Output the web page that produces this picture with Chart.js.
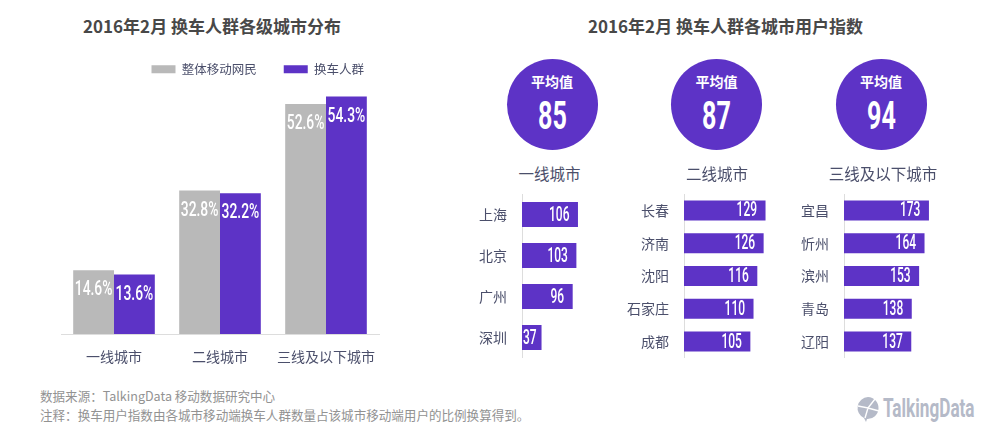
<!DOCTYPE html>
<html><head><meta charset="utf-8">
<script src="https://cdn.jsdelivr.net/npm/chart.js@4"></script>
<style>
html,body{margin:0;padding:0;background:#fff;width:1000px;height:436px;overflow:hidden;font-family:"Noto Sans CJK SC",sans-serif}
canvas,.t,.c,svg{position:absolute}
.t{white-space:nowrap;line-height:1;transform:translateY(-50%)}
.title{font-weight:700;font-size:17px;color:#484848}
.city{font-size:15.5px;color:#4b4f6b;transform:translate(-50%,-50%)}
.foot{font-size:12.55px;color:#929292;left:40px}
.c{width:91px;height:91px;border-radius:50%;background:#5d33c6;color:#fff;text-align:center}
.c b{display:block;position:absolute;left:0;right:0;line-height:1}
.c .a{top:15px;font-size:14px}
.c .n{top:38px;font-family:Roboto;font-weight:700;font-size:38px;transform:scaleX(.66)}
</style></head><body>
<div class="t title" style="left:83px;top:25px">2016年2月 换车人群各级城市分布</div>
<div class="t title" style="left:588px;top:25px">2016年2月 换车人群各城市用户指数</div>
<canvas id="main" width="450" height="380" style="left:0;top:0;width:450px;height:380px"></canvas>
<div id="rest"></div>
<div class="t foot" style="top:396px">数据来源：TalkingData 移动数据研究中心</div>
<div class="t foot" style="top:415px">注释：换车用户指数由各城市移动端换车人群数量占该城市移动端用户的比例换算得到。</div>
<svg style="left:856px;top:396px" width="26" height="26" viewBox="0 0 26 26">
<path d="M12 1a11 11 0 1 1-1 22l-1 3-2-4A11 11 0 0 1 12 1z" fill="#b5bac8"/>
<path d="M2 10l10 2 7-9M12 12l-3 10M12 12l11 3" stroke="#fff" stroke-width="1.4" fill="none"/></svg>
<div class="t" style="left:883px;top:408px;font-family:Roboto;font-weight:700;font-size:26px;color:#b5bac8;transform-origin:0 50%;transform:translateY(-50%) scaleX(.66)">TalkingData</div>
<script>
const PURPLE='#5d33c6',GRAY='#b9b9b9',AXIS='#dddddd',TICK='#4b4f6b';
const categories=['一线城市','二线城市','三线及以下城市'];
const overall=[14.6,32.8,52.6];
const switchers=[13.6,32.2,54.3];
const seriesNames=['整体移动网民','换车人群'];
const avgTitle='平均值';
const tierNames=['一线城市','二线城市','三线及以下城市'];
const tierAverages=[85,87,94];
const tier1Cities=['上海','北京','广州','深圳'];
const tier1Values=[106,103,96,37];
const tier2Cities=['长春','济南','沈阳','石家庄','成都'];
const tier2Values=[129,126,116,110,105];
const tier3Cities=['宜昌','忻州','滨州','青岛','辽阳'];
const tier3Values=[173,164,153,138,137];

const CJK='"Noto Sans CJK SC"',NUM='Roboto';
Chart.defaults.animation=false;
Chart.defaults.responsive=false;
Chart.defaults.maintainAspectRatio=false;
Chart.defaults.font.family=CJK;

function squeezed(ctx,text,x,y,sx,align){
  ctx.save();ctx.translate(x,y);ctx.scale(sx,1);
  ctx.textAlign=align;ctx.textBaseline='middle';ctx.fillStyle='#fff';
  ctx.fillText(text,0,0);ctx.restore();
}
const columnLabels={id:'columnLabels',
  afterLayout(ch){ch.legend.right+=12},
  afterDatasetsDraw(ch){
  const ctx=ch.ctx;ctx.save();ctx.font='500 21px '+NUM;
  ch.data.datasets.forEach((d,i)=>ch.getDatasetMeta(i).data.forEach((b,j)=>{
    squeezed(ctx,d.data[j].toFixed(1)+'%',b.x,b.y+20,.66,'center');
  }));ctx.restore();
}};
const barLabels={id:'barLabels',afterDatasetsDraw(ch){
  const ctx=ch.ctx;ctx.save();ctx.font='500 20px '+NUM;
  const sx=.6,d=ch.data.datasets[0];
  ch.getDatasetMeta(0).data.forEach((b,j)=>{
    const s=String(d.data[j]),w=ctx.measureText(s).width*sx;
    squeezed(ctx,s,Math.max(b.x-8.5,b.base+1+w),b.y+1,sx,'right');
  });ctx.restore();
}};

new Chart(document.getElementById('main'),{
  type:'bar',
  data:{labels:categories,datasets:[
    {label:seriesNames[0],data:overall,backgroundColor:GRAY},
    {label:seriesNames[1],data:switchers,backgroundColor:PURPLE}]},
  options:{
    devicePixelRatio:1,
    datasets:{bar:{categoryPercentage:.77,barPercentage:1}},
    layout:{padding:{left:61,right:71,top:36,bottom:0}},
    plugins:{tooltip:{enabled:false},
      legend:{align:'end',labels:{boxWidth:24,boxHeight:8,padding:27,color:TICK,font:{size:12.5}}}},
    scales:{
      y:{display:false,min:0,max:56.8},
      x:{afterFit(s){s.height=46},grid:{display:false},border:{color:AXIS,width:1},
         ticks:{color:TICK,font:{size:14},padding:6,maxRotation:0,autoSkip:false}}
    }
  },
  plugins:[columnLabels]
});

function hbar(cities,values,axisX,pxPerUnit){
  const left=axisX-70,width=190,cv=document.createElement('canvas');
  cv.width=width;cv.height=164;
  cv.style.cssText=`left:${left}px;top:193.5px;width:${width}px;height:164px`;
  document.getElementById('rest').appendChild(cv);
  new Chart(cv,{
    type:'bar',
    data:{labels:cities,datasets:[{data:values,backgroundColor:PURPLE,categoryPercentage:.61,barPercentage:1}]},
    options:{
      indexAxis:'y',devicePixelRatio:1,
      plugins:{legend:{display:false},tooltip:{enabled:false}},
      scales:{
        x:{display:false,min:0,max:(width-70)/pxPerUnit},
        y:{afterFit(s){s.width=70;s.paddingTop=0;s.paddingBottom=0},grid:{display:false},border:{color:AXIS,width:1},
           ticks:{color:TICK,font:{size:14},padding:7,autoSkip:false}}
      }
    },
    plugins:[barLabels]
  });
}
hbar(tier1Cities,tier1Values,522,.528);
hbar(tier2Cities,tier2Values,684,.632);
hbar(tier3Cities,tier3Values,844,.491);

const centers=[552,716.5,881];
const labelCenters=[549.5,717,883];
centers.forEach((x,i)=>{
  const c=document.createElement('div');c.className='c';
  c.style.left=(x-45.5)+'px';c.style.top='59px';
  c.innerHTML=`<b class="a">${avgTitle}</b><b class="n">${tierAverages[i]}</b>`;
  document.body.appendChild(c);
  const l=document.createElement('div');l.className='t city';
  l.style.left=labelCenters[i]+'px';l.style.top='174px';l.textContent=tierNames[i];
  document.body.appendChild(l);
});
</script>
</body></html>
